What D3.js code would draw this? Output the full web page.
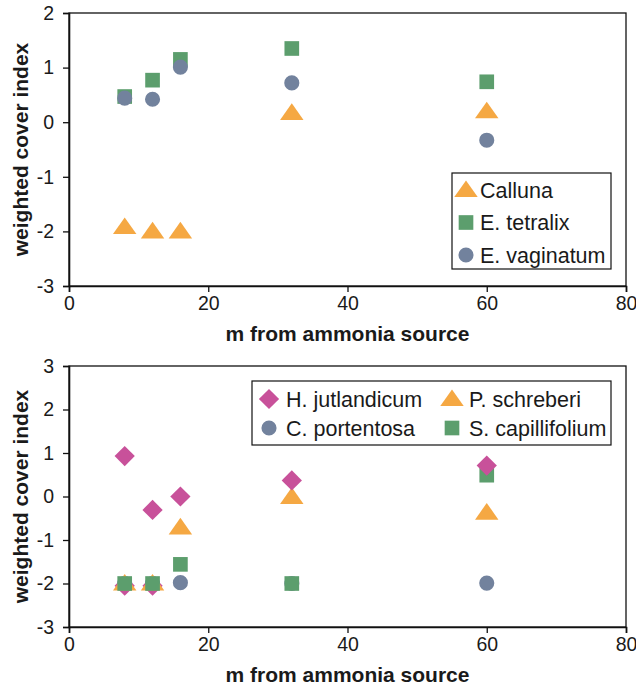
<!DOCTYPE html>
<html>
<head>
<meta charset="utf-8">
<script src="https://cdn.jsdelivr.net/npm/d3@7"></script>
<style>
  html, body { margin: 0; padding: 0; background: #fff; }
  svg { display: block; font-family: "Liberation Sans", Arial, sans-serif; }
</style>
</head>
<body>
<svg id="chart" width="636" height="691"></svg>
<script>
// Distance from the ammonia source (m) and weighted cover index per species
const distances = [8, 12, 16, 32, 60];

// Upper panel: dwarf shrubs / sedge
const calluna     = [-1.92, -2.0, -2.0, 0.17, 0.20];
const eTetralix   = [0.47, 0.77, 1.15, 1.35, 0.74];
const eVaginatum  = [0.44, 0.42, 1.01, 0.72, -0.33];

// Lower panel: mosses / lichen
const hJutlandicumX = [8, 12, 16, 32, 60, 8, 12];
const hJutlandicum  = [0.93, -0.31, 0.0, 0.37, 0.71, -2.05, -2.05];
const cPortentosa   = [-2.0, -2.0, -1.98, -2.0, -1.99];
const pSchreberi    = [-2.0, -2.0, -0.71, -0.01, -0.37];
const sCapillifolium = [-2.0, -2.0, -1.56, -2.0, 0.49];

const xTicks = [0, 20, 40, 60, 80];
const yTicksTop = [-3, -2, -1, 0, 1, 2];
const yTicksBottom = [-3, -2, -1, 0, 1, 2, 3];
const xTitle = "m from ammonia source";
const yTitle = "weighted cover index";

const colors = {
  orange: "#f5a843",
  green: "#5c9e6d",
  slate: "#72829d",
  pink: "#c8519a"
};

const svg = d3.select("#chart");
const textColor = "#1a1a1a";
const tickFmt = d => String(d); // plain hyphen for negatives

// marker shapes
const shapes = {
  triangle: d3.symbol().type(d3.symbolTriangle).size(160),
  square: d3.symbol().type(d3.symbolSquare).size(215),
  circle: d3.symbol().type(d3.symbolCircle).size(180),
  diamond: d3.symbol().type(d3.symbolSquare).size(205)
};
function marker(sel, shape, color) {
  const p = sel.append("path").attr("d", shapes[shape]()).attr("fill", color);
  if (shape === "diamond") p.attr("transform", "rotate(45)");
  if (shape === "triangle") p.attr("transform", "translate(0,1.5) scale(1.22,1)");
  return p;
}

function panel(opts) {
  const x = d3.scaleLinear().domain([0, 80]).range([69, 626]);
  const y = d3.scaleLinear().domain(opts.yDomain).range(opts.yRange);
  const g = svg.append("g");

  // frame
  g.append("rect")
    .attr("x", x(0)).attr("y", y(opts.yDomain[1]))
    .attr("width", x(80) - x(0)).attr("height", y(opts.yDomain[0]) - y(opts.yDomain[1]))
    .attr("fill", "none").attr("stroke", "#111").attr("stroke-width", 1.3);

  const yAxis = g.append("g")
    .attr("transform", `translate(${x(0)},0)`)
    .call(d3.axisLeft(y).tickValues(opts.yTicks).tickSize(6).tickPadding(9).tickFormat(tickFmt));
  const xAxis = g.append("g")
    .attr("transform", `translate(0,${y(opts.yDomain[0])})`)
    .call(d3.axisBottom(x).tickValues(xTicks).tickSize(6).tickPadding(4).tickFormat(tickFmt));
  [yAxis, xAxis].forEach(a => {
    a.select(".domain").attr("stroke", "#111").attr("stroke-width", 1.6);
    a.selectAll(".tick line").attr("stroke", "#111").attr("stroke-width", 1.3);
    a.selectAll(".tick text").attr("fill", textColor).style("font-size", "19.5px")
      .style("font-family", "'Liberation Sans', Arial, sans-serif");
  });

  g.append("text")
    .attr("x", (x(0) + x(80)) / 2).attr("y", y(opts.yDomain[0]) + 55)
    .attr("text-anchor", "middle").attr("fill", textColor)
    .style("font-size", "21px").style("font-weight", "bold")
    .text(xTitle);
  const yMid = (y(opts.yDomain[0]) + y(opts.yDomain[1])) / 2;
  g.append("text")
    .attr("transform", `translate(28,${yMid}) rotate(-90)`)
    .attr("text-anchor", "middle").attr("fill", textColor)
    .style("font-size", "21px").style("font-weight", "bold")
    .text(yTitle);

  // points
  const pts = g.append("g");
  opts.points.forEach(p => {
    const m = pts.append("g").attr("transform", `translate(${x(p.x)},${y(p.y)})`);
    marker(m, p.shape, p.color);
  });
  return { x, y, g };
}

// ---- upper panel ----
const topSeries = [
  { name: "Calluna", xs: distances, ys: calluna, shape: "triangle", color: colors.orange },
  { name: "E. tetralix", xs: distances, ys: eTetralix, shape: "square", color: colors.green },
  { name: "E. vaginatum", xs: distances, ys: eVaginatum, shape: "circle", color: colors.slate }
];
const topPoints = [];
topSeries.forEach(s => s.ys.forEach((v, i) => topPoints.push({ x: s.xs[i], y: v, shape: s.shape, color: s.color })));
const upperPanel = panel({ yDomain: [-3, 2], yRange: [286, 13], yTicks: yTicksTop, points: topPoints });

// legend (upper)
const lg1 = svg.append("g");
lg1.append("rect").attr("x", 452).attr("y", 173).attr("width", 159).attr("height", 96)
  .attr("fill", "#fff").attr("stroke", "#111").attr("stroke-width", 1.2);
topSeries.forEach((s, i) => {
  const cy = 190 + i * 32.5;
  const m = lg1.append("g").attr("transform", `translate(466,${cy})`);
  marker(m, s.shape, s.color);
  lg1.append("text").attr("x", 480).attr("y", cy).attr("dy", "0.36em")
    .attr("fill", textColor).style("font-size", "21.5px").text(s.name);
});

// ---- lower panel ----
const bottomSeries = [
  { name: "H. jutlandicum", xs: hJutlandicumX, ys: hJutlandicum, shape: "diamond", color: colors.pink, order: 1 },
  { name: "P. schreberi", xs: distances, ys: pSchreberi, shape: "triangle", color: colors.orange, order: 2 },
  { name: "C. portentosa", xs: distances, ys: cPortentosa, shape: "circle", color: colors.slate, order: 0 },
  { name: "S. capillifolium", xs: distances, ys: sCapillifolium, shape: "square", color: colors.green, order: 3 }
];
const bottomPoints = [];
bottomSeries.forEach(s => s.ys.forEach((v, i) => bottomPoints.push({ x: s.xs[i], y: v, shape: s.shape, color: s.color, order: s.order })));
// higher values are drawn over lower ones; ties follow series order
bottomPoints.sort((a, b) => (a.y - b.y) || (a.order - b.order));
const lowerPanel = panel({ yDomain: [-3, 3], yRange: [627, 366], yTicks: yTicksBottom, points: bottomPoints });

// legend (lower), two columns
const lg2 = svg.append("g");
lg2.append("rect").attr("x", 252).attr("y", 381).attr("width", 359).attr("height", 64)
  .attr("fill", "#fff").attr("stroke", "#111").attr("stroke-width", 1.2);
bottomSeries.forEach((s, i) => {
  const col = i % 2, row = Math.floor(i / 2);
  const cx = col === 0 ? 269 : 452;
  const cy = 399 + row * 29;
  const m = lg2.append("g").attr("transform", `translate(${cx},${cy})`);
  marker(m, s.shape, s.color);
  lg2.append("text").attr("x", cx + 17).attr("y", cy).attr("dy", "0.36em")
    .attr("fill", textColor).style("font-size", "21.5px").text(s.name);
});
</script>
</body>
</html>
